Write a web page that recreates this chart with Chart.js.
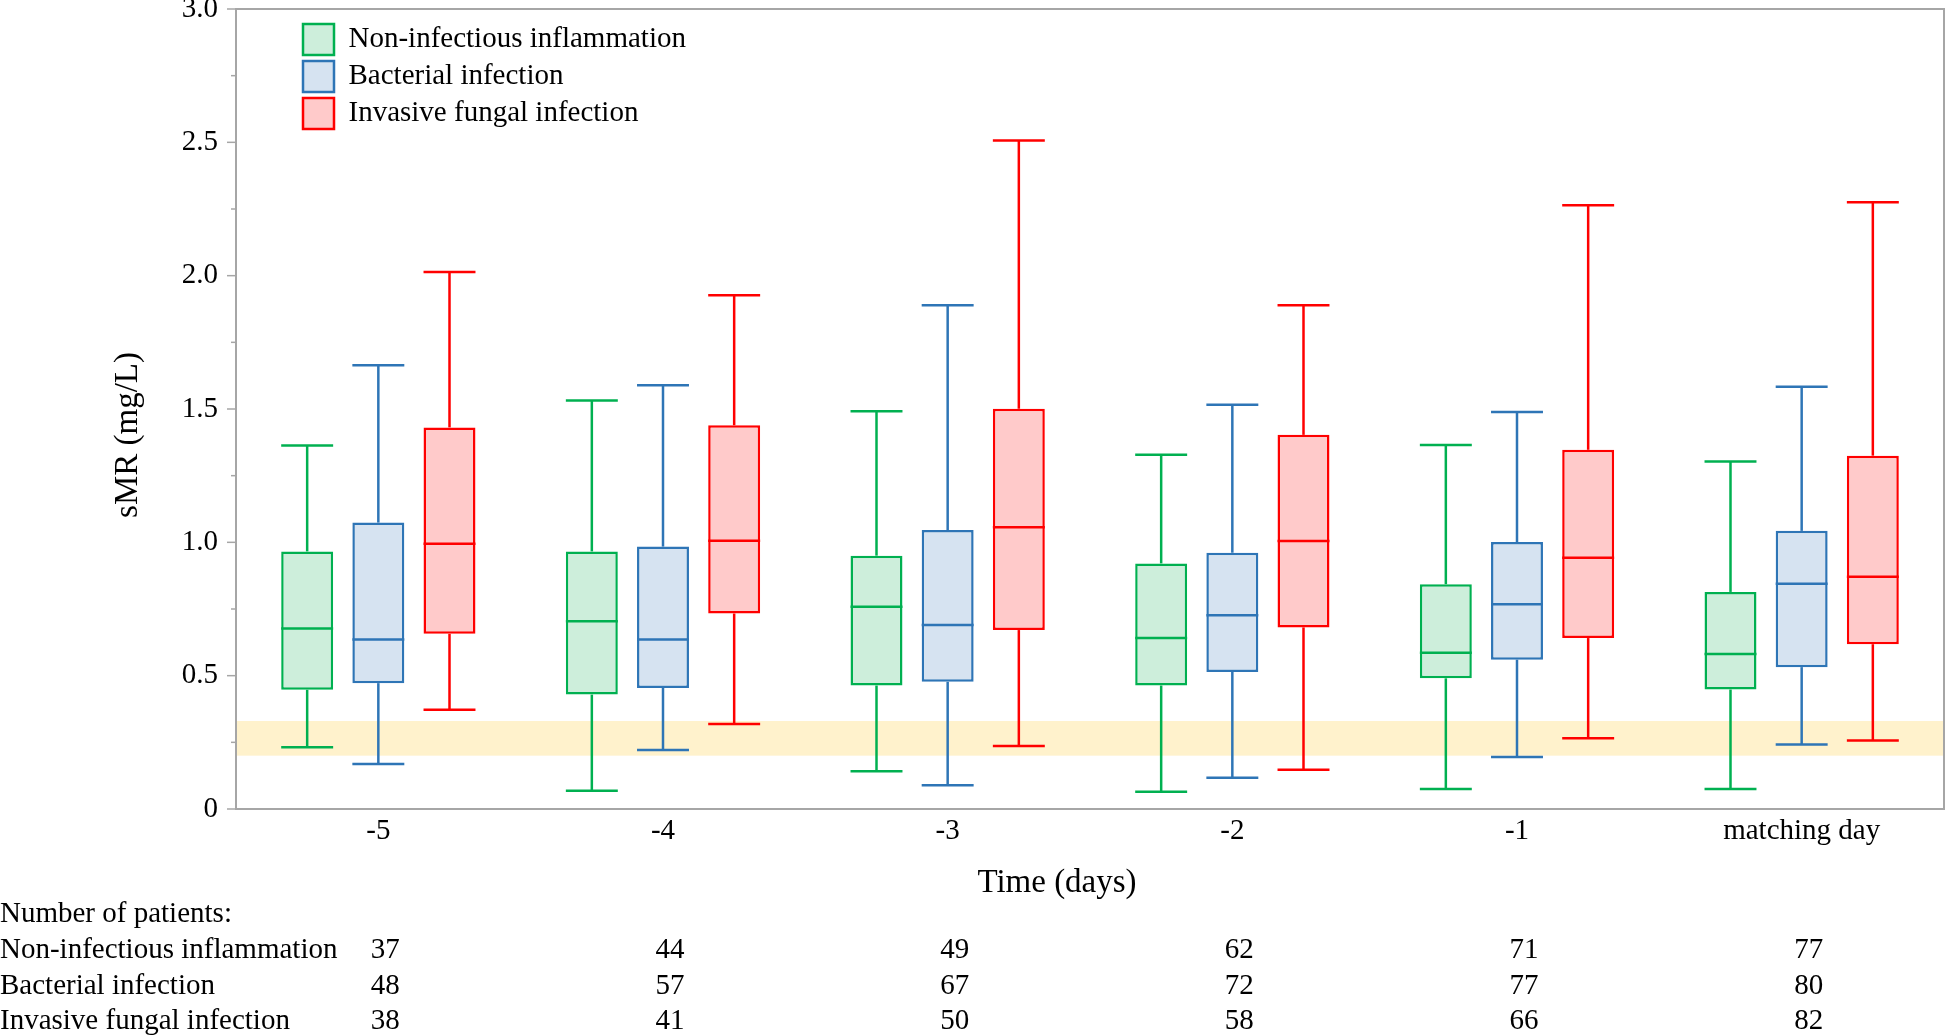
<!DOCTYPE html>
<html>
<head>
<meta charset="utf-8">
<script src="https://cdn.jsdelivr.net/npm/chart.js@4.4.0/dist/chart.umd.min.js"></script>
<style>
  html, body { margin: 0; padding: 0; background: #fff; }
  #wrap { width: 1946px; height: 1035px; position: relative; }
</style>
</head>
<body>
<div id="wrap"><canvas id="smrChart"></canvas></div>
<script>
// categories + series
const days = ["-5", "-4", "-3", "-2", "-1", "matching day"];
const groupNames = ["Non-infectious inflammation", "Bacterial infection", "Invasive fungal infection"];
const yTickLabels = ["0", "0.5", "1.0", "1.5", "2.0", "2.5", "3.0"];

// box plots (mg/L)
const nonInfMin = [0.232, 0.068, 0.142, 0.065, 0.075, 0.075];
const nonInfQ1  = [0.447, 0.429, 0.463, 0.463, 0.490, 0.448];
const nonInfMed = [0.677, 0.704, 0.758, 0.641, 0.586, 0.581];
const nonInfQ3  = [0.966, 0.966, 0.950, 0.921, 0.843, 0.814];
const nonInfMax = [1.363, 1.532, 1.492, 1.328, 1.365, 1.303];

const bactMin = [0.169, 0.221, 0.089, 0.117, 0.195, 0.242];
const bactQ1  = [0.472, 0.454, 0.477, 0.514, 0.560, 0.532];
const bactMed = [0.636, 0.636, 0.690, 0.727, 0.768, 0.845];
const bactQ3  = [1.074, 0.984, 1.046, 0.961, 1.001, 1.043];
const bactMax = [1.664, 1.589, 1.889, 1.516, 1.489, 1.583];

const fungMin = [0.372, 0.319, 0.236, 0.147, 0.265, 0.257];
const fungQ1  = [0.657, 0.733, 0.671, 0.681, 0.641, 0.618];
const fungMed = [0.995, 1.006, 1.057, 1.005, 0.942, 0.871];
const fungQ3  = [1.431, 1.439, 1.501, 1.403, 1.347, 1.325];
const fungMax = [2.014, 1.927, 2.507, 1.889, 2.264, 2.275];

// number of patients per day
const nonInfN = [37, 44, 49, 62, 71, 77];
const bactN   = [48, 57, 67, 72, 77, 80];
const fungN   = [38, 41, 50, 58, 66, 82];

// shaded reference range
const refBand = [0.2, 0.33];

const borderColors = ["#00b050", "#2e75b6", "#ff0000"];
const fillColors = ["#cdeedb", "#d6e3f1", "#ffcaca"];
const FONT = '"Liberation Serif", "Times New Roman", serif';

const stats = [
  {min: nonInfMin, q1: nonInfQ1, med: nonInfMed, q3: nonInfQ3, max: nonInfMax, n: nonInfN},
  {min: bactMin, q1: bactQ1, med: bactMed, q3: bactQ3, max: bactMax, n: bactN},
  {min: fungMin, q1: fungQ1, med: fungMed, q3: fungQ3, max: fungMax, n: fungN}
];

function line(ctx, x1, y1, x2, y2){
  ctx.beginPath();
  ctx.moveTo(x1, y1);
  ctx.lineTo(x2, y2);
  ctx.stroke();
}

const boxExtras = {
  id: "boxExtras",
  afterLayout(chart){
    // legend sits inside the plot, near the top left
    const ca = chart.chartArea;
    chart.legend.left = ca.left + 61;
    chart.legend.top = ca.top + 9;
  },
  beforeDatasetsDraw(chart){
    const {ctx, chartArea: ca, scales: {y}} = chart;
    const top = y.getPixelForValue(refBand[1]);
    const bot = y.getPixelForValue(refBand[0]);
    ctx.save();
    ctx.fillStyle = "#fff2cc";
    ctx.fillRect(ca.left, top, ca.right - ca.left, bot - top);
    ctx.restore();
  },
  afterDatasetsDraw(chart){
    const {ctx, scales: {y}} = chart;
    ctx.save();
    ctx.lineWidth = 2.5;
    chart.data.datasets.forEach((ds, di) => {
      const st = stats[di];
      chart.getDatasetMeta(di).data.forEach((bar, i) => {
        const x = bar.x, half = bar.width / 2;
        ctx.strokeStyle = ds.borderColor;
        const pMax = y.getPixelForValue(st.max[i]);
        const pQ3 = y.getPixelForValue(st.q3[i]);
        const pMed = y.getPixelForValue(st.med[i]);
        const pQ1 = y.getPixelForValue(st.q1[i]);
        const pMin = y.getPixelForValue(st.min[i]);
        line(ctx, x, pQ3, x, pMax);
        line(ctx, x - half, pMax, x + half, pMax);
        line(ctx, x, pQ1, x, pMin);
        line(ctx, x - half, pMin, x + half, pMin);
        line(ctx, x - half, pMed, x + half, pMed);
      });
    });
    ctx.restore();
  },
  afterDraw(chart){
    const {ctx, chartArea: ca, scales: {x, y}} = chart;
    ctx.save();
    // frame
    ctx.strokeStyle = "#a6a6a6";
    ctx.lineWidth = 2;
    ctx.strokeRect(ca.left, ca.top, ca.right - ca.left, ca.bottom - ca.top);
    // y ticks, long on the labelled ones
    ctx.lineWidth = 1.5;
    y.ticks.forEach(t => {
      const py = y.getPixelForValue(t.value);
      const major = Math.round(t.value * 4) % 2 === 0;
      line(ctx, ca.left - (major ? 9 : 5), py, ca.left, py);
    });

    ctx.fillStyle = "#000";
    ctx.textBaseline = "middle";
    // axis titles
    ctx.font = "33px " + FONT;
    ctx.textAlign = "center";
    ctx.fillText("Time (days)", 1057, 883);
    ctx.save();
    ctx.translate(128, 435);
    ctx.rotate(-Math.PI / 2);
    ctx.fillText("sMR (mg/L)", 0, 0);
    ctx.restore();

    // patient table
    ctx.font = "29px " + FONT;
    ctx.textAlign = "left";
    ctx.fillText("Number of patients:", 0, 914);
    const rowY = [950, 986, 1021];
    stats.forEach((st, r) => {
      ctx.textAlign = "left";
      ctx.fillText(groupNames[r], 0, rowY[r]);
      ctx.textAlign = "center";
      st.n.forEach((n, i) => {
        ctx.fillText(String(n), x.getPixelForValue(i) + 7, rowY[r]);
      });
    });
    ctx.restore();
  }
};

const datasets = stats.map((st, k) => ({
  label: groupNames[k],
  data: days.map((d, i) => [st.q1[i], st.q3[i]]),
  backgroundColor: fillColors[k],
  borderColor: borderColors[k],
  borderWidth: 2.5,
  borderSkipped: false,
  categoryPercentage: 0.75,
  barPercentage: 0.73
}));

new Chart(document.getElementById("smrChart"), {
  type: "bar",
  data: { labels: days, datasets: datasets },
  options: {
    responsive: true,
    maintainAspectRatio: false,
    animation: false,
    devicePixelRatio: 1,
    layout: { padding: { top: 9, right: 2, left: 0, bottom: 0 } },
    font: { family: FONT },
    plugins: {
      tooltip: { enabled: false },
      legend: {
        position: "chartArea",
        align: "start",
        labels: {
          boxWidth: 31,
          boxHeight: 31,
          padding: 6,
          color: "#000",
          font: { family: FONT, size: 29 }
        }
      }
    },
    scales: {
      x: {
        grid: { display: false, drawTicks: false },
        border: { display: false },
        ticks: { color: "#000", padding: 5, font: { family: FONT, size: 29 } },
        afterFit: (scale) => { scale.height = 226; }
      },
      y: {
        min: 0,
        max: 3,
        grid: { display: false, drawTicks: false },
        border: { display: false },
        ticks: {
          stepSize: 0.25,
          color: "#000",
          padding: 18,
          font: { family: FONT, size: 29 },
          callback: (v) => {
            const k = Math.round(v * 4);
            return k % 2 === 0 ? yTickLabels[k / 2] : "";
          }
        },
        afterFit: (scale) => { scale.width = 236; scale.paddingTop = 0; scale.paddingBottom = 0; }
      }
    }
  },
  plugins: [boxExtras]
});
</script>
</body>
</html>
